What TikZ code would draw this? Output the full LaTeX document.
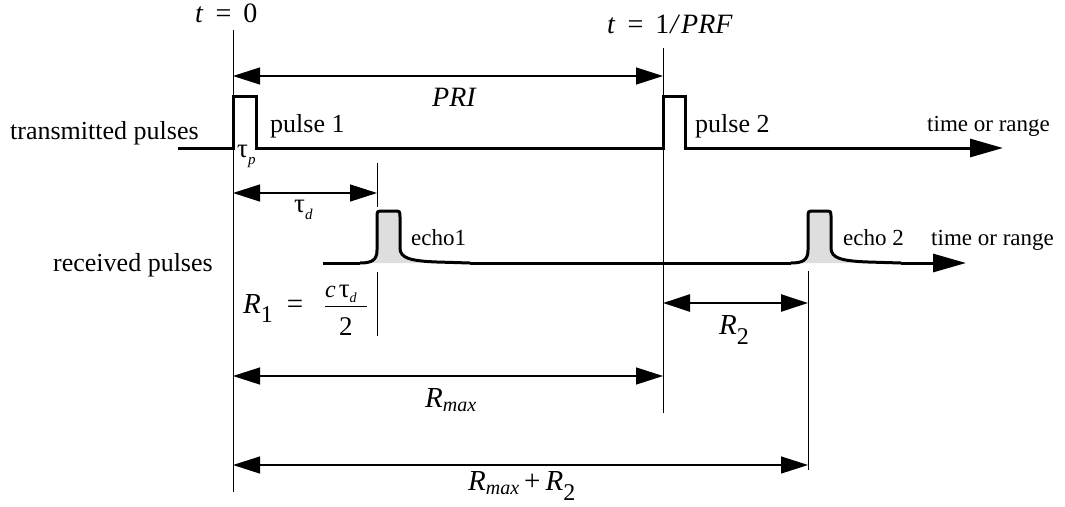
\documentclass[tikz,border=0pt]{standalone}
\usepackage{fontspec}
\setmainfont{Liberation Serif}
\usetikzlibrary{arrows.meta}
\begin{document}
\begin{tikzpicture}[x=1pt,y=-1pt,
  sig/.style={line width=3pt,line join=miter},
  guide/.style={line width=1pt},
  dimarrow/.style={line width=1.3pt,{Triangle[length=27pt,width=17pt]}-{Triangle[length=27pt,width=17pt]}},
  bigtip/.style={-{Triangle[length=33pt,width=18pt]}},
  lbl/.style={anchor=base west,inner sep=0pt,font=\fontsize{26}{30}\selectfont},
  small/.style={anchor=base west,inner sep=0pt,font=\fontsize{23}{27}\selectfont},
  mth/.style={anchor=base west,inner sep=0pt,font=\fontsize{29}{33}\selectfont},
  tau/.style={anchor=base west,inner sep=0pt,font=\fontsize{27}{30}\selectfont},
  echofill/.style={fill=black!13},
  pics/echo/.style={code={
    \fill[echofill] (-17,0) .. controls (-5,0) and (0,-3) .. (0,-13) -- (0,-45)
      .. controls (0,-52) .. (6,-52) -- (17,-52) .. controls (23,-52) .. (23,-45)
      -- (23,-15) .. controls (23,-5) and (30,-2) .. (45,0) -- cycle;
    \draw[sig] (-17,0) .. controls (-5,0) and (0,-3) .. (0,-13) -- (0,-45)
      .. controls (0,-52) .. (6,-52) -- (17,-52) .. controls (23,-52) .. (23,-45)
      -- (23,-15) .. controls (23,-5) and (33,-2) .. (60,-1) -- (93,0);
  }}
]
\useasboundingbox (0,0) rectangle (1065,506);

% ---------- coordinates ----------
\coordinate (t0top) at (233,30);
\coordinate (t0bot) at (233,492);
\coordinate (t1top) at (663,48);
\coordinate (t1bot) at (663,413);
\coordinate (tdtop) at (377,163);
\coordinate (tdmid) at (377,207);
\coordinate (r1top) at (377,272);
\coordinate (r1bot) at (377,336);
\coordinate (e2top) at (808,271);
\coordinate (e2bot) at (808,470);

\coordinate (txstart) at (178,148);
\coordinate (txend) at (1003,148);
\coordinate (rxstart) at (323,263);
\coordinate (e1start) at (360,263);
\coordinate (e1end) at (470,263);
\coordinate (e2start) at (791,263);
\coordinate (e2end) at (901,263);
\coordinate (rxend) at (966,263);

\coordinate (priL) at (233,76);   \coordinate (priR) at (663,76);
\coordinate (tdL) at (233,193);   \coordinate (tdR) at (377,193);
\coordinate (r2L) at (663,303);   \coordinate (r2R) at (808,303);
\coordinate (rmL) at (233,376);   \coordinate (rmR) at (663,376);
\coordinate (rsL) at (233,465);   \coordinate (rsR) at (808,465);

% ---------- guide lines ----------
\draw[guide] (t0top) -- (t0bot);
\draw[guide] (t1top) -- (t1bot);
\draw[guide] (tdtop) -- (tdmid);
\draw[guide] (r1top) -- (r1bot);
\draw[guide] (e2top) -- (e2bot);

% ---------- transmitted pulses ----------
\draw[sig,bigtip] (txstart) -- (233,148) -- (233,96) -- (256,96) -- (256,148)
  -- (663,148) -- (663,96) -- (685,96) -- (685,148) -- (txend);

% ---------- received pulses ----------
\pic at (377,263) {echo};
\pic at (808,263) {echo};
\draw[sig] (rxstart) -- (e1start);
\draw[sig] (e1end) -- (e2start);
\draw[sig,bigtip] (e2end) -- (rxend);

% ---------- dimension arrows ----------
\draw[dimarrow] (priL) -- (priR);
\draw[dimarrow] (tdL) -- (tdR);
\draw[dimarrow,line width=2.5pt] (r2L) -- (r2R);
\draw[dimarrow] (rmL) -- (rmR);
\draw[dimarrow] (rsL) -- (rsR);

% ---------- labels ----------
\node[lbl] (txlabel) at (10,139) {transmitted pulses};
\node[lbl] (rxlabel) at (53,271) {received pulses};
\node[lbl] (p1) at (270,132) {pulse 1};
\node[lbl] (p2) at (695,132) {pulse 2};
\node[small] (tr1) at (927,131) {time or range};
\node[small] (e1) at (411,245) {echo1};
\node[small] (e2) at (843,245) {echo 2};
\node[small] (tr2) at (931,245) {time or range};

\node[mth,font=\fontsize{28}{32}\selectfont] (tzero) at (195,22)
  {\textit{t}\hspace{12pt}=\hspace{12pt}0};
\node[mth,font=\fontsize{28}{32}\selectfont] (tprf) at (607,33)
  {\textit{t}\hspace{12pt}=\hspace{12pt}1\hspace{1pt}\textit{/}\hspace{1pt}\textit{PRF}};
\node[mth,font=\fontsize{28}{32}\selectfont] (pri) at (432,106) {\textit{PRI}};

\node[tau] (taup) at (237,157) {τ\raisebox{-7pt}{\fontsize{15}{15}\selectfont\textit{p}}};
\node[tau] (taud) at (294,212) {τ\raisebox{-7pt}{\fontsize{15}{15}\selectfont\textit{d}}};

\node[mth] (r1) at (243,313)
  {\textit{R}\raisebox{-9pt}{\fontsize{24}{24}\selectfont 1}\hspace{14pt}=};
\node[tau] (num) at (325,297)
  {\fontsize{24}{28}\selectfont\textit{c}\hspace{3pt}\fontsize{27}{30}\selectfont τ\raisebox{-5pt}{\fontsize{14}{14}\selectfont\textit{d}}};
\coordinate (barL) at (325,306);
\coordinate (barR) at (367,306);
\draw[line width=1pt] (barL) -- (barR);
\node[tau] (den) at (339,335) {2};

\node[mth] (r2) at (719,334)
  {\textit{R}\raisebox{-10pt}{\fontsize{24}{24}\selectfont 2}};
\node[mth] (rmax) at (425,407)
  {\textit{R}\raisebox{-4pt}{\fontsize{20}{20}\selectfont\textit{max}}};
\node[mth] (rsum) at (468,490)
  {\textit{R}\raisebox{-4pt}{\fontsize{20}{20}\selectfont\textit{max}}\hspace{5pt}+\hspace{5pt}\textit{R}\raisebox{-10pt}{\fontsize{24}{24}\selectfont 2}};
\end{tikzpicture}
\end{document}
